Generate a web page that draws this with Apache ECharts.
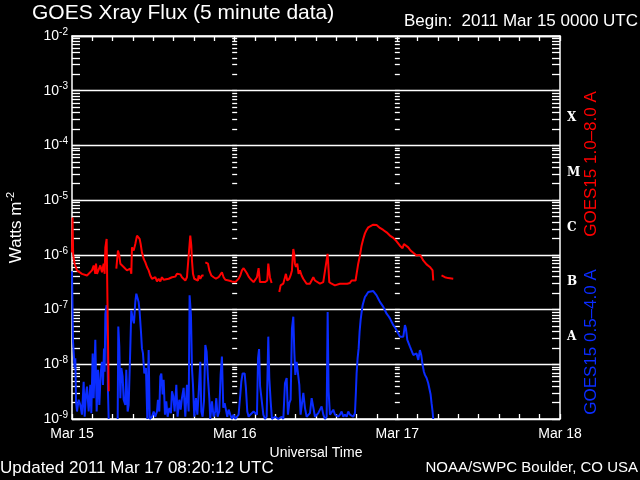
<!DOCTYPE html>
<html>
<head>
<meta charset="utf-8">
<script src="https://cdn.jsdelivr.net/npm/echarts@6/dist/echarts.min.js"></script>
<style>
html,body{margin:0;padding:0;background:#000;}
#chart{width:640px;height:480px;}
</style>
</head>
<body>
<div id="chart"></div>
<script>
// ---- data (hours since 2011 Mar 15 00:00 UTC, flux in W m^-2) ----
const dayLabels = ['Mar 15', 'Mar 16', 'Mar 17', 'Mar 18'];
const classLetters = ['A', 'B', 'C', 'M', 'X'];
const classFlux = [3.16e-8, 3.16e-7, 3.16e-6, 3.16e-5, 3.16e-4];
const longLabel = 'GOES15 1.0\u20138.0 A';
const shortLabel = 'GOES15 0.5\u20134.0 A';

const redLong = [
  [0,1.1e-6],[0.08,4.8e-6],[0.17,1.0e-6],[0.4,6.8e-7],[0.74,5.2e-7],[1.47,4.5e-7],[2.21,4.2e-7],[2.46,3.9e-7],
  [2.95,5.2e-7],[3.2,6.4e-7],[3.44,4.5e-7],[3.54,6.9e-7],[3.69,4.5e-7],[4.18,6.4e-7],[4.42,4.8e-7],[4.67,6.9e-7],
  [4.82,4.5e-7],[4.92,1.37e-6],[5.11,1.95e-6],[5.31,1.95e-6],[5.41,3.2e-9],[5.5,null],
  [6.54,5.6e-7],[6.78,1.2e-6],[6.98,9.7e-7],[7.13,6.9e-7],[7.37,6.4e-7],[7.62,6.0e-7],[7.87,5.6e-7],[8.11,5.2e-7],
  [8.36,4.8e-7],[8.6,5.6e-7],[8.75,4.5e-7],[8.85,1.37e-6],[9.1,1.2e-6],[9.34,1.58e-6],[9.59,2.25e-6],[9.83,2.41e-6],
  [9.98,1.95e-6],[10.13,1.58e-6],[10.32,1.11e-6],[10.57,8.5e-7],[10.82,7.3e-7],[11.06,6.0e-7],[11.31,5.2e-7],
  [11.55,4.2e-7],[11.8,3.66e-7],[12.05,3.4e-7],[12.29,3.9e-7],[12.54,3.27e-7],[12.78,3.66e-7],[13.03,3.27e-7],
  [13.27,3.9e-7],[13.52,3.5e-7],[13.77,3.76e-7],[14.26,3.66e-7],[14.75,3.9e-7],[15.24,4.0e-7],[15.49,4.5e-7],
  [15.73,4.2e-7],[15.98,4.4e-7],[16.22,3.9e-7],[16.47,3.66e-7],[16.72,3.4e-7],[16.96,3.9e-7],[17.21,3.66e-7],
  [17.45,2.25e-6],[17.6,1.47e-6],[17.7,7.9e-7],[17.85,4.5e-7],[18.04,3.66e-7],[18.29,3.4e-7],[18.58,3.4e-7],
  [18.68,4.2e-7],[18.93,3.66e-7],[19.17,4.2e-7],[19.42,4.2e-7],[19.55,null],
  [19.67,7.3e-7],[20.06,6.9e-7],[20.26,5.2e-7],[20.55,4.2e-7],[20.9,3.9e-7],[21.24,3.66e-7],[21.63,3.9e-7],
  [21.88,3.66e-7],[22.12,4.8e-7],[22.37,3.9e-7],[22.62,3.5e-7],[23.11,3.4e-7],[23.6,3.27e-7],[24.09,3.18e-7],
  [24.58,3.66e-7],[24.83,4.2e-7],[25.07,5.2e-7],[25.32,5.7e-7],[25.57,5.6e-7],[25.81,4.6e-7],[26.06,4.0e-7],
  [26.3,3.66e-7],[26.55,3.4e-7],[26.79,3.18e-7],[27.04,3.27e-7],[27.29,3.9e-7],[27.53,5.7e-7],[27.73,3.18e-7],
  [27.98,3.4e-7],[28.47,3.18e-7],[28.81,3.4e-7],[28.96,6.9e-7],[29.2,3.9e-7],[29.45,3.05e-7],[29.6,null],
  [30.58,2.09e-7],[30.78,2.77e-7],[31.17,2.97e-7],[31.42,3.18e-7],[31.56,4.5e-7],[31.76,3.4e-7],[32.06,3.66e-7],
  [32.25,4.2e-7],[32.45,5.2e-7],[32.55,8.5e-7],[32.65,1.28e-6],[32.79,1.04e-6],[32.89,6.9e-7],[33.04,6.0e-7],
  [33.24,6.9e-7],[33.43,4.5e-7],[33.63,5.2e-7],[33.88,4.2e-7],[34.12,3.66e-7],[34.37,3.66e-7],[34.61,2.97e-7],
  [35.1,2.97e-7],[35.35,3.18e-7],[35.6,3.9e-7],[35.84,3.4e-7],[36.09,3.18e-7],[36.58,2.97e-7],[37.07,3.18e-7],
  [37.32,2.97e-7],[37.71,1.04e-6],[37.86,5.2e-7],[37.96,3.18e-7],[38.3,2.97e-7],[38.79,2.77e-7],[39.04,2.7e-7],
  [39.53,2.97e-7],[40.02,2.97e-7],[40.27,3.18e-7],[40.61,2.97e-7],[41.0,3.05e-7],[41.25,3.4e-7],[41.5,3.18e-7],
  [41.84,3.4e-7],[41.99,4.5e-7],[42.23,6.9e-7],[42.48,9.7e-7],[42.72,1.47e-6],[42.97,1.95e-6],[43.22,2.47e-6],
  [43.46,2.85e-6],[43.71,3.18e-6],[43.95,3.4e-6],[44.45,3.56e-6],[44.94,3.5e-6],[45.18,3.3e-6],[45.43,3.1e-6],
  [45.92,2.85e-6],[46.41,2.58e-6],[46.9,2.25e-6],[47.4,2.04e-6],[47.89,1.77e-6],[48.38,1.47e-6],[48.77,1.32e-6],
  [48.97,1.58e-6],[49.26,1.67e-6],[49.61,1.37e-6],[49.95,1.2e-6],[50.35,1.09e-6],[50.84,9.7e-7],[51.33,1.0e-6],
  [51.58,9.0e-7],[51.82,7.9e-7],[52.31,6.7e-7],[52.8,6.0e-7],[53.2,5.2e-7],[53.3,3.4e-7],[53.45,null],
  [54.52,4.2e-7],[55.02,3.9e-7],[55.51,3.76e-7],[56.25,3.66e-7]
];

const blueShort = [
  [0,5e-7],[0.15,2.6e-8],[0.39,8.5e-9],[0.49,1.29e-8],[0.59,2.1e-9],[0.74,1.37e-9],[0.98,2.25e-9],[1.23,1.8e-9],
  [1.47,1.2e-9],[1.72,4.8e-9],[1.87,1.1e-9],[2.06,2.8e-9],[2.21,3.9e-9],[2.46,1.37e-9],[2.7,4.2e-9],[2.85,1.28e-9],
  [3.05,1.58e-8],[3.2,2.4e-9],[3.44,2.8e-8],[3.64,1.37e-9],[3.83,7.9e-9],[4.03,1.8e-9],[4.23,6.8e-9],[4.42,1.11e-8],
  [4.57,4.2e-9],[4.72,1.95e-8],[4.82,7.3e-9],[4.92,8.4e-8],[5.11,1.2e-7],[5.21,3.0e-8],[5.31,3.2e-9],[5.41,1.0e-9],
  [5.5,null],
  [6.74,1.0e-9],[6.83,4.9e-8],[6.98,2.1e-8],[7.13,2.4e-9],[7.28,8.5e-9],[7.47,6.0e-9],[7.62,2.25e-9],[7.87,1.8e-9],
  [8.01,7.9e-9],[8.21,1.37e-9],[8.36,1.8e-9],[8.6,1.95e-8],[8.75,9.7e-8],[8.95,6.9e-8],[9.14,5.6e-8],[9.34,1.38e-7],
  [9.49,1.95e-7],[9.69,2.04e-7],[9.83,1.38e-7],[9.98,9.0e-8],[10.18,3.9e-8],[10.32,1.95e-8],[10.47,1.58e-8],
  [10.67,6.8e-9],[10.91,8.5e-9],[11.11,1.0e-9],[11.31,1.82e-8],[11.46,1.0e-9],[11.8,1.1e-9],[12.05,1.37e-9],
  [12.29,1.1e-9],[12.54,1.37e-9],[12.68,2.25e-9],[12.88,1.37e-9],[13.03,6.0e-9],[13.18,6.8e-9],[13.37,2.8e-9],
  [13.52,5.2e-9],[13.72,1.2e-9],[13.91,2.1e-9],[14.11,1.1e-9],[14.36,1.6e-9],[14.6,1.28e-9],[14.75,3.2e-9],
  [14.95,2.6e-9],[15.14,1.37e-9],[15.39,4.2e-9],[15.58,1.1e-9],[15.83,2.25e-9],[16.03,1.48e-9],[16.22,2.4e-9],
  [16.47,3.7e-9],[16.72,1.1e-9],[16.96,4.2e-9],[17.21,1.37e-9],[17.35,1.82e-7],[17.55,7.9e-8],[17.7,8.5e-9],
  [17.85,4.2e-9],[18.04,1.1e-9],[18.29,2.4e-9],[18.49,1.2e-9],[18.68,2.8e-9],[18.93,1.11e-8],[19.08,1.37e-9],
  [19.27,1.1e-9],[19.47,2.1e-9],[19.67,2.25e-8],[19.86,1.7e-8],[20.06,5.6e-9],[20.26,2.4e-9],[20.4,1.0e-9],
  [20.65,2.1e-9],[20.89,1.1e-9],[21.14,1.37e-9],[21.29,2.4e-9],[21.48,1.1e-9],[21.73,1.37e-9],[21.93,6.4e-9],
  [22.12,1.38e-8],[22.32,1.6e-9],[22.52,1.95e-9],[22.71,2.1e-9],[22.91,1.1e-9],[23.11,1.48e-9],[23.35,1.2e-9],
  [23.6,1.0e-9],[23.84,1.2e-9],[24.09,1.0e-9],[24.34,1.0e-9],[24.58,1.2e-9],[24.83,2.8e-9],[24.98,4.8e-9],
  [25.17,6.8e-9],[25.47,6.8e-9],[25.66,3.7e-9],[25.86,1.37e-9],[26.06,1.1e-9],[26.3,1.2e-9],[26.55,1.28e-9],
  [26.79,1.37e-9],[27.04,1.42e-9],[27.29,1.2e-9],[27.45,1.3e-8],[27.6,1.9e-8],[27.75,4.0e-9],[27.98,4.2e-9],
  [28.23,1.2e-9],[28.47,1.0e-9],[28.72,1.1e-9],[28.96,3.2e-8],[29.11,5.6e-9],[29.31,2.1e-9],[29.5,1.0e-9],
  [29.95,1.1e-9],[30.44,1.0e-9],[30.93,1.1e-9],[31.18,1.0e-9],[31.42,4.5e-9],[31.67,5.6e-9],[31.86,1.2e-9],
  [32.06,1.95e-9],[32.26,2.25e-9],[32.45,4.5e-8],[32.65,7.4e-8],[32.8,1.7e-8],[32.95,6.4e-9],[33.14,1.11e-8],
  [33.39,1.2e-8],[33.54,4.2e-9],[33.73,1.2e-9],[33.98,1.28e-9],[34.13,3.0e-9],[34.37,1.6e-9],[34.62,1.1e-9],
  [34.86,1.1e-9],[35.11,1.28e-9],[35.36,2.4e-9],[35.6,2.4e-9],[35.85,1.1e-9],[36.09,1.1e-9],[36.34,1.28e-9],
  [36.58,1.37e-9],[36.83,1.7e-9],[37.08,1.2e-9],[37.32,1.0e-9],[37.57,1.1e-9],[37.72,9.0e-8],[37.86,3.2e-9],
  [38.06,1.2e-9],[38.3,1.28e-9],[38.55,1.48e-9],[38.8,1.2e-9],[39.04,1.28e-9],[39.29,1.1e-9],[39.53,1.2e-9],
  [39.78,1.37e-9],[40.03,1.1e-9],[40.27,1.2e-9],[40.52,1.1e-9],[40.76,1.37e-9],[41.01,1.2e-9],[41.26,1.28e-9],
  [41.5,1.1e-9],[41.75,1.28e-9],[41.89,3.2e-9],[41.99,6.8e-9],[42.14,1.29e-8],[42.29,1.95e-8],[42.43,3.9e-8],
  [42.58,6.4e-8],[42.73,9.0e-8],[42.88,1.2e-7],[43.07,1.47e-7],[43.22,1.7e-7],[43.47,1.88e-7],[43.71,2.09e-7],
  [43.96,2.18e-7],[44.45,2.18e-7],[44.7,2.04e-7],[44.94,1.82e-7],[45.19,1.58e-7],[45.43,1.38e-7],[45.68,1.28e-7],
  [45.93,1.12e-7],[46.17,9.7e-8],[46.42,8.4e-8],[46.66,7.7e-8],[46.91,6.9e-8],[47.15,6.0e-8],[47.4,5.2e-8],
  [47.65,4.7e-8],[47.89,4.2e-8],[48.14,3.65e-8],[48.38,3.2e-8],[48.63,3.0e-8],[48.88,3.2e-8],[49.02,4.2e-8],
  [49.12,5.2e-8],[49.27,4.5e-8],[49.47,2.8e-8],[49.66,2.6e-8],[49.86,2.1e-8],[50.1,1.95e-8],[50.35,1.48e-8],
  [50.6,1.38e-8],[50.84,1.58e-8],[51.09,1.2e-8],[51.33,1.82e-8],[51.53,1.48e-8],[51.73,9.7e-9],[51.92,7.3e-9],
  [52.07,6.4e-9],[52.32,5.6e-9],[52.56,4.5e-9],[52.81,4.2e-9],[52.91,2.8e-9],[53.05,1.95e-9],[53.2,1.37e-9],
  [53.3,1.0e-9]
];

// ---- build chart ----
const FONT = 'Liberation Sans';
const toSeries = arr => arr.map(p => [p[0], p[1] === null ? '-' : p[1]]);

const logTicks = [];
for (let e = -9; e < -2; e++) {
  for (let m = 1; m < 10; m++) logTicks.push(m * Math.pow(10, e));
}
logTicks.push(1e-2);

const GRID = {left: 72, right: 80, top: 36, bottom: 61, outerBoundsMode: 'none', containLabel: false};
const plotW = 640 - GRID.left - GRID.right;
const hourMax = 72;
const dayPx = plotW * 24 / hourMax;

function tickAxis(position, offset, len) {
  return {
    type: 'log', logBase: 10, min: 1e-9, max: 1e-2, position: position,
    offset: offset,
    axisLine: {show: false},
    axisTick: {show: true, inside: true, length: len, customValues: logTicks,
               lineStyle: {color: '#fff', width: 1.3}},
    axisLabel: {show: false},
    splitLine: {show: false}
  };
}

const chart = echarts.init(document.getElementById('chart'), null, {renderer: 'canvas'});
chart.setOption({
  backgroundColor: '#000',
  animation: false,
  textStyle: {fontFamily: FONT},
  title: [
    {text: 'GOES Xray Flux (5 minute data)', left: 32, top: 3, padding: 0,
     textStyle: {color: '#fff', fontSize: 21, fontWeight: 'normal', fontFamily: FONT}},
    {text: 'Begin:  2011 Mar 15 0000 UTC', right: 2, top: 13, padding: 0,
     textStyle: {color: '#fff', fontSize: 17, fontWeight: 'normal', fontFamily: FONT}},
    {text: 'Updated 2011 Mar 17 08:20:12 UTC', left: 0, top: 460, padding: 0,
     textStyle: {color: '#fff', fontSize: 17, fontWeight: 'normal', fontFamily: FONT}},
    {text: 'NOAA/SWPC Boulder, CO USA', right: 2, top: 460, padding: 0,
     textStyle: {color: '#fff', fontSize: 15, fontWeight: 'normal', fontFamily: FONT}}
  ],
  grid: GRID,
  xAxis: [
    {
      type: 'value', min: 0, max: hourMax, interval: 3, position: 'bottom',
      name: 'Universal Time', nameLocation: 'middle', nameGap: 19,
      nameTextStyle: {color: '#fff', fontSize: 14, fontFamily: FONT},
      axisLine: {show: true, lineStyle: {color: '#fff', width: 1.5}},
      axisTick: {show: true, inside: true, length: 5, lineStyle: {color: '#fff', width: 1.3}},
      axisLabel: {color: '#fff', fontSize: 14, fontFamily: FONT, margin: 8,
                  formatter: v => (v % 24 === 0 ? dayLabels[v / 24] : '')},
      splitLine: {show: false}
    },
    {
      type: 'value', min: 0, max: hourMax, interval: 3, position: 'top',
      axisLine: {show: true, lineStyle: {color: '#fff', width: 1.5}},
      axisTick: {show: true, inside: true, length: 5, lineStyle: {color: '#fff', width: 1.3}},
      axisLabel: {show: false},
      splitLine: {show: false}
    }
  ],
  yAxis: [
    {
      type: 'log', logBase: 10, min: 1e-9, max: 1e-2, interval: 1, position: 'left',
      name: '{b|Watts m}{s|-2}', nameLocation: 'middle', nameGap: 45, nameRotate: 90,
      nameTextStyle: {color: '#fff', rich: {
        b: {fontSize: 17, color: '#fff', fontFamily: FONT, lineHeight: 22},
        s: {fontSize: 11, color: '#fff', fontFamily: FONT, verticalAlign: 'top', lineHeight: 12}
      }},
      axisLine: {show: true, lineStyle: {color: '#fff', width: 1.5}},
      axisTick: {show: false},
      axisLabel: {
        margin: 4,
        formatter: v => '{b|10}{s|' + Math.round(Math.log10(v)) + '}',
        rich: {
          b: {fontSize: 14, color: '#fff', fontFamily: FONT, lineHeight: 18},
          s: {fontSize: 10, color: '#fff', fontFamily: FONT, verticalAlign: 'top', lineHeight: 10}
        }
      },
      splitLine: {show: true, lineStyle: {color: '#fff', width: 1.3}}
    },
    tickAxis('left', 0, 8),
    {
      type: 'log', logBase: 10, min: 1e-9, max: 1e-2, position: 'right',
      axisLine: {show: true, lineStyle: {color: '#fff', width: 1.5}},
      axisTick: {show: true, inside: true, length: 8, customValues: logTicks,
                 lineStyle: {color: '#fff', width: 1.3}},
      axisLabel: {
        show: true, margin: 7, customValues: classFlux,
        color: '#fff', fontSize: 12, fontWeight: 'bold', fontFamily: 'DejaVu Serif',
        formatter: v => classLetters[Math.round(Math.log10(v / classFlux[0]))]
      },
      splitLine: {show: false}
    },
    tickAxis('left', -(dayPx - 2.5), 5),
    tickAxis('left', -(2 * dayPx - 2.5), 5)
  ],
  graphic: [
    {type: 'text', x: 591, y: 164, rotation: Math.PI / 2,
     style: {text: longLabel, fill: '#ff0000', font: '17px "Liberation Sans"', align: 'center', verticalAlign: 'middle'}},
    {type: 'text', x: 591, y: 342, rotation: Math.PI / 2,
     style: {text: shortLabel, fill: '#0a2cff', font: '17px "Liberation Sans"', align: 'center', verticalAlign: 'middle'}}
  ],
  series: [
    {name: shortLabel, type: 'line', xAxisIndex: 0, yAxisIndex: 0, data: toSeries(blueShort),
     showSymbol: false, symbol: 'none', connectNulls: false, clip: true,
     lineStyle: {color: '#0a2cff', width: 2}},
    {name: longLabel, type: 'line', xAxisIndex: 0, yAxisIndex: 0, data: toSeries(redLong),
     showSymbol: false, symbol: 'none', connectNulls: false, clip: true,
     lineStyle: {color: '#ff0000', width: 2}}
  ]
});
</script>
</body>
</html>
